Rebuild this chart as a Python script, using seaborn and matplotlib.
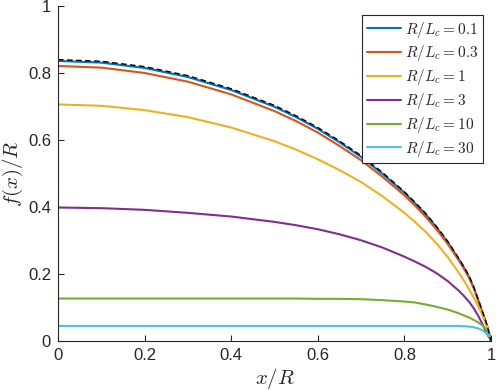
import matplotlib
matplotlib.use("Agg")
import matplotlib.pyplot as plt
import seaborn as sns

# x/R sample points
x_r = [0, 0.1, 0.2, 0.3, 0.4, 0.5, 0.55, 0.6, 0.65, 0.7, 0.75, 0.8, 0.825, 0.85, 0.875,
       0.9, 0.925, 0.94, 0.95, 0.96, 0.97, 0.98, 0.99, 0.995, 1.0]

# f(x)/R for each R/Lc
f_01 = [0.837, 0.832, 0.816, 0.789, 0.750, 0.700, 0.669, 0.634, 0.594, 0.550, 0.499, 0.443, 0.411,
        0.377, 0.338, 0.295, 0.246, 0.214, 0.190, 0.160, 0.124, 0.087, 0.049, 0.026, 0.0]
f_03 = [0.822, 0.817, 0.801, 0.775, 0.737, 0.687, 0.657, 0.623, 0.583, 0.540, 0.490, 0.435, 0.404,
        0.370, 0.332, 0.290, 0.242, 0.210, 0.187, 0.158, 0.122, 0.086, 0.048, 0.025, 0.0]
f_1 = [0.707, 0.703, 0.690, 0.669, 0.638, 0.597, 0.572, 0.543, 0.511, 0.475, 0.432, 0.383, 0.355,
       0.325, 0.290, 0.251, 0.205, 0.175, 0.153, 0.130, 0.105, 0.078, 0.046, 0.027, 0.0]
f_3 = [0.399, 0.397, 0.392, 0.383, 0.372, 0.356, 0.346, 0.334, 0.319, 0.301, 0.279, 0.252, 0.237,
       0.221, 0.202, 0.179, 0.151, 0.131, 0.116, 0.098, 0.076, 0.051, 0.024, 0.012, 0.0]
f_10 = [0.127, 0.127, 0.127, 0.127, 0.127, 0.127, 0.127, 0.126, 0.126, 0.125, 0.122, 0.118, 0.115,
        0.109, 0.102, 0.094, 0.083, 0.075, 0.070, 0.063, 0.056, 0.047, 0.033, 0.022, 0.0]
f_30 = [0.045, 0.045, 0.045, 0.045, 0.045, 0.045, 0.045, 0.045, 0.045, 0.045, 0.045, 0.045, 0.045,
        0.045, 0.045, 0.045, 0.045, 0.044, 0.043, 0.041, 0.038, 0.032, 0.023, 0.016, 0.0]
# dashed limiting curve
f_lim = [0.841, 0.836, 0.820, 0.793, 0.754, 0.704, 0.673, 0.638, 0.598, 0.554, 0.503, 0.446, 0.414,
         0.380, 0.341, 0.298, 0.248, 0.216, 0.192, 0.162, 0.126, 0.088, 0.050, 0.027, 0.0]

labels = ['0.1', '0.3', '1', '3', '10', '30']
colors = ['#0072BD', '#D95319', '#EDB120', '#7E2F8E', '#77AC30', '#4DBEEE']
series = [f_01, f_03, f_1, f_3, f_10, f_30]

sns.set_style("ticks")
plt.rcParams['font.family'] = ['Liberation Sans', 'DejaVu Sans']
plt.rcParams['mathtext.fontset'] = 'cm'

fig = plt.figure(figsize=(4.96, 3.90), dpi=100)
ax = fig.add_axes([0.117, 0.1256, 0.873, 0.858])

for lab, col, vals in zip(labels, colors, series):
    sns.lineplot(x=x_r, y=vals, color=col, linewidth=1.5, ax=ax,
                 label=r'$R/L_c = ' + lab + '$')

# limiting curve on top
sns.lineplot(x=x_r, y=f_lim, color='black', linewidth=1.0, linestyle=(0, (4, 2.5)), ax=ax)

ax.set_xlim(0, 1)
ax.set_ylim(0, 1)
ax.set_xticks([0, 0.2, 0.4, 0.6, 0.8, 1])
ax.set_xticklabels(['0', '0.2', '0.4', '0.6', '0.8', '1'])
ax.set_yticks([0, 0.2, 0.4, 0.6, 0.8, 1])
ax.set_yticklabels(['0', '0.2', '0.4', '0.6', '0.8', '1'])
ax.tick_params(direction='in', length=4, width=0.8, colors='#262626', labelsize=12, pad=5)

for s in ['top', 'right']:
    ax.spines[s].set_visible(False)
for s in ['left', 'bottom']:
    ax.spines[s].set_color('#262626')
    ax.spines[s].set_linewidth(0.8)

ax.set_xlabel(r'$x/R$', fontsize=15, color='#262626', labelpad=2)
ax.set_ylabel(r'$f(x)/R$', fontsize=15, color='#262626', labelpad=2)

leg = ax.legend(loc='upper right', bbox_to_anchor=(483 / 496, (390 - 15) / 390),
                bbox_transform=fig.transFigure, borderaxespad=0,
                fontsize=11, frameon=True, fancybox=False, framealpha=1,
                edgecolor='#262626', handlelength=2.2, handletextpad=0.3,
                labelspacing=0.25, borderpad=0.3)
leg.get_frame().set_linewidth(0.8)

fig.savefig('out.png', dpi=100)
